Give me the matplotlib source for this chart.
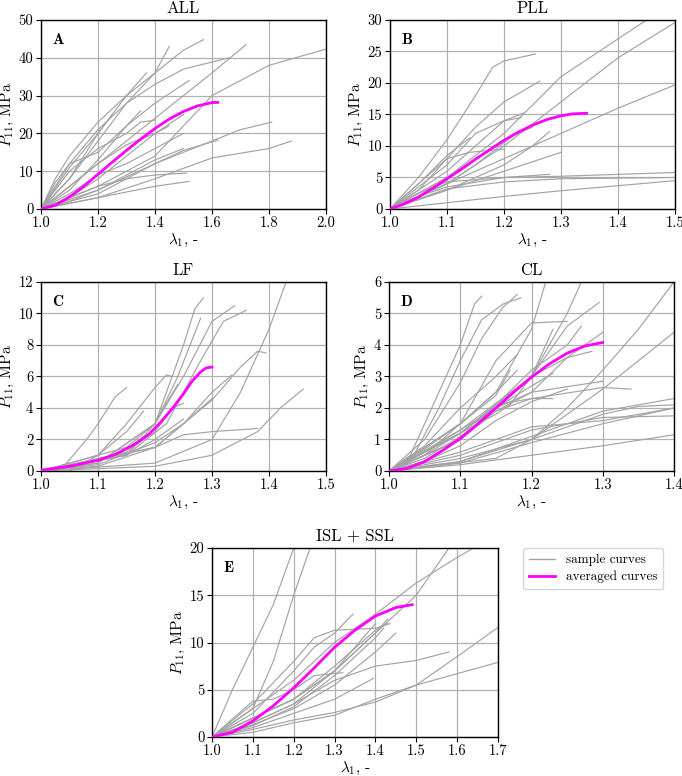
import matplotlib
matplotlib.use("Agg")
import matplotlib.pyplot as plt

plt.rcParams['font.family'] = 'serif'
plt.rcParams['font.serif'] = ['cmr10']
plt.rcParams['mathtext.fontset'] = 'cm'
plt.rcParams['axes.formatter.use_mathtext'] = True

# ---------------- data ----------------
titles = ["ALL", "PLL", "LF", "CL", "ISL + SSL"]
letters = ["A", "B", "C", "D", "E"]
xlims = [(1.0, 2.0), (1.0, 1.5), (1.0, 1.5), (1.0, 1.4), (1.0, 1.7)]
ylims = [(0, 50), (0, 30), (0, 12), (0, 6), (0, 20)]
xticks_A = [1.0, 1.2, 1.4, 1.6, 1.8, 2.0]
xticks_B = [1.0, 1.1, 1.2, 1.3, 1.4, 1.5]
xticks_C = [1.0, 1.1, 1.2, 1.3, 1.4, 1.5]
xticks_D = [1.0, 1.1, 1.2, 1.3, 1.4]
xticks_E = [1.0, 1.1, 1.2, 1.3, 1.4, 1.5, 1.6, 1.7]
yticks_A = [0, 10, 20, 30, 40, 50]
yticks_B = [0, 5, 10, 15, 20, 25, 30]
yticks_C = [0, 2, 4, 6, 8, 10, 12]
yticks_D = [0, 1, 2, 3, 4, 5, 6]
yticks_E = [0, 5, 10, 15, 20]

avg_A_x = [1.0, 1.05, 1.1, 1.15, 1.2, 1.25, 1.3, 1.35, 1.4, 1.45, 1.5, 1.55, 1.6, 1.62]
avg_A_y = [0, 1.0, 3.2, 6.0, 9.2, 12.4, 15.5, 18.5, 21.3, 23.8, 25.8, 27.3, 28.15, 28.2]
avg_B_x = [1.0, 1.025, 1.05, 1.075, 1.1, 1.125, 1.15, 1.175, 1.2, 1.225, 1.25, 1.275, 1.3, 1.32, 1.345]
avg_B_y = [0, 0.8, 1.9, 3.3, 4.8, 6.3, 7.9, 9.4, 10.9, 12.2, 13.3, 14.2, 14.8, 15.1, 15.2]
avg_C_x = [1.0, 1.05, 1.1, 1.13, 1.16, 1.19, 1.21, 1.23, 1.25, 1.265, 1.28, 1.29, 1.3]
avg_C_y = [0.05, 0.3, 0.68, 1.05, 1.6, 2.35, 3.1, 3.95, 4.9, 5.7, 6.3, 6.55, 6.6]
avg_D_x = [1.0, 1.025, 1.05, 1.075, 1.1, 1.125, 1.15, 1.175, 1.2, 1.225, 1.25, 1.275, 1.3]
avg_D_y = [0, 0.08, 0.3, 0.65, 1.03, 1.5, 2.0, 2.5, 2.98, 3.4, 3.74, 3.97, 4.08]
avg_E_x = [1.0, 1.05, 1.1, 1.15, 1.2, 1.25, 1.3, 1.35, 1.4, 1.45, 1.49]
avg_E_y = [0, 0.5, 1.7, 3.3, 5.2, 7.3, 9.5, 11.3, 12.8, 13.7, 14.0]

samples_A = [
    [(1.0, 0), (1.05, 8), (1.1, 14), (1.2, 23), (1.3, 30), (1.37, 36)],
    [(1.0, 0), (1.1, 11), (1.2, 20), (1.3, 30), (1.4, 36), (1.45, 43)],
    [(1.0, 0), (1.1, 8), (1.2, 18), (1.3, 28), (1.4, 36), (1.5, 42), (1.57, 44.8)],
    [(1.0, 0), (1.2, 12), (1.4, 24), (1.5, 30), (1.6, 36), (1.72, 43.5)],
    [(1.0, 0), (1.2, 6), (1.4, 14), (1.6, 30), (1.8, 38), (2.0, 42.3)],
    [(1.0, 0), (1.1, 12), (1.2, 21), (1.3, 28), (1.4, 33), (1.5, 37), (1.66, 40)],
    [(1.0, 0), (1.1, 5), (1.2, 13), (1.3, 22), (1.4, 28), (1.52, 34)],
    [(1.0, 0), (1.2, 5), (1.4, 12), (1.6, 18), (1.7, 21), (1.81, 23)],
    [(1.0, 0), (1.2, 3), (1.4, 8), (1.6, 13.5), (1.8, 16), (1.88, 18)],
    [(1.0, 0), (1.2, 4), (1.4, 12), (1.5, 15.5), (1.62, 18.2)],
    [(1.0, 0), (1.1, 3), (1.2, 6), (1.3, 8), (1.4, 9), (1.51, 9.5)],
    [(1.0, 0), (1.1, 1.5), (1.2, 3), (1.3, 4.5), (1.4, 6), (1.52, 7.3)],
    [(1.0, 0), (1.1, 3), (1.2, 8), (1.3, 14), (1.4, 20), (1.5, 25)],
    [(1.0, 0), (1.1, 10), (1.2, 16), (1.3, 20), (1.35, 23), (1.4, 23.5)],
    [(1.0, 0), (1.1, 6), (1.2, 12), (1.3, 17), (1.4, 20), (1.45, 22)],
    [(1.0, 0), (1.05, 7), (1.1, 12), (1.2, 15), (1.3, 22), (1.35, 26)],
    [(1.0, 0), (1.1, 8), (1.2, 20), (1.25, 25)],
    [(1.0, 0), (1.1, 4), (1.2, 9), (1.3, 12), (1.4, 16), (1.5, 20)],
    [(1.0, 0), (1.1, 2), (1.2, 5), (1.3, 9), (1.4, 13), (1.5, 16)],
]
samples_B = [
    [(1.0, 0), (1.05, 5), (1.1, 11), (1.15, 18), (1.18, 22.5), (1.2, 23.5), (1.255, 24.6)],
    [(1.0, 0), (1.05, 3), (1.1, 8), (1.15, 13), (1.2, 17), (1.263, 20.3)],
    [(1.0, 0), (1.1, 5), (1.2, 12), (1.3, 21), (1.4, 27), (1.45, 30)],
    [(1.0, 0), (1.1, 4), (1.2, 10), (1.3, 17), (1.4, 24), (1.5, 29.6)],
    [(1.0, 0), (1.1, 4), (1.2, 8), (1.3, 12), (1.4, 16), (1.5, 19.7)],
    [(1.0, 0), (1.1, 3), (1.2, 7), (1.25, 10), (1.28, 12.3)],
    [(1.0, 0), (1.1, 3), (1.2, 6), (1.3, 9)],
    [(1.0, 0), (1.05, 2), (1.1, 3.5), (1.2, 5), (1.28, 5.5)],
    [(1.0, 0), (1.05, 2.5), (1.1, 4.3), (1.2, 5), (1.3, 5.2), (1.5, 5.8)],
    [(1.0, 0), (1.1, 3.2), (1.2, 4.3), (1.3, 4.8), (1.5, 5.0)],
    [(1.0, 0), (1.1, 1), (1.2, 2), (1.3, 2.9), (1.5, 4.5)],
    [(1.0, 0), (1.05, 4), (1.1, 8.5), (1.14, 11.3)],
    [(1.0, 0), (1.1, 6), (1.15, 10), (1.2, 14), (1.234, 15.2)],
    [(1.0, 0), (1.1, 7), (1.15, 12), (1.2, 14), (1.23, 14.5)],
    [(1.0, 0), (1.1, 5), (1.2, 11), (1.25, 13)],
    [(1.0, 0), (1.05, 4), (1.1, 8), (1.14, 9), (1.2, 9.5)],
    [(1.0, 0), (1.1, 4), (1.15, 7), (1.2, 10.5), (1.22, 12)],
]
samples_C = [
    [(1.0, 0), (1.04, 0.3), (1.08, 2), (1.1, 3), (1.13, 4.7), (1.15, 5.3)],
    [(1.0, 0), (1.1, 1), (1.15, 3), (1.2, 5.3), (1.22, 6.1), (1.23, 6.0)],
    [(1.05, 0), (1.1, 1), (1.15, 2.5), (1.18, 3.8)],
    [(1.0, 0), (1.1, 0.5), (1.2, 3), (1.22, 5), (1.25, 8), (1.27, 10.3), (1.285, 11)],
    [(1.0, 0), (1.1, 0.5), (1.2, 3), (1.24, 6), (1.28, 9.7)],
    [(1.0, 0), (1.15, 1), (1.2, 3), (1.25, 6), (1.3, 9.5), (1.34, 10.5)],
    [(1.0, 0), (1.15, 1), (1.22, 3), (1.28, 7), (1.32, 9.5), (1.36, 10.2)],
    [(1.0, 0), (1.1, 0.3), (1.2, 1.5), (1.3, 4.5), (1.35, 6.6), (1.38, 7.6), (1.395, 7.5)],
    [(1.0, 0), (1.2, 1.5), (1.25, 2.3), (1.3, 2.5), (1.38, 2.7)],
    [(1.0, 0), (1.2, 0.5), (1.3, 2), (1.35, 5), (1.4, 9), (1.43, 12)],
    [(1.0, 0), (1.2, 0.3), (1.3, 1), (1.38, 2.5), (1.42, 4), (1.46, 5.2)],
    [(1.0, 0), (1.2, 1.5), (1.25, 3), (1.3, 5), (1.335, 6.1)],
    [(1.0, 0), (1.15, 1.5), (1.2, 3), (1.22, 4.3), (1.24, 5.5)],
    [(1.0, 0), (1.15, 1.2), (1.2, 2.5), (1.23, 4), (1.25, 4.3)],
    [(1.0, 0), (1.15, 1), (1.2, 2), (1.25, 3.3)],
    [(1.0, 0), (1.1, 0.4), (1.2, 1.8), (1.25, 3.0), (1.3, 4.6)],
]
samples_D = [
    [(1.0, 0), (1.03, 0.5), (1.06, 2), (1.1, 4), (1.12, 5.3), (1.13, 5.55)],
    [(1.0, 0), (1.03, 0.3), (1.07, 2), (1.1, 3.5), (1.13, 4.8), (1.16, 5.3), (1.185, 5.5)],
    [(1.0, 0), (1.05, 1), (1.1, 2.8), (1.13, 4.2), (1.16, 5.2), (1.18, 5.6)],
    [(1.0, 0), (1.05, 0.8), (1.1, 2), (1.15, 3), (1.18, 3.7)],
    [(1.0, 0), (1.05, 0.7), (1.1, 1.5), (1.15, 2.5), (1.18, 3.2)],
    [(1.0, 0), (1.1, 1.5), (1.15, 2.5), (1.2, 4.5), (1.22, 6)],
    [(1.0, 0), (1.1, 1.3), (1.2, 3), (1.25, 5), (1.27, 6)],
    [(1.0, 0), (1.1, 1), (1.2, 3), (1.25, 4.6), (1.295, 5.35)],
    [(1.0, 0), (1.1, 1.5), (1.15, 3.5), (1.2, 4.7), (1.25, 4.75)],
    [(1.0, 0), (1.1, 1), (1.2, 3.2), (1.25, 4), (1.27, 4.6)],
    [(1.0, 0), (1.1, 1.2), (1.2, 3), (1.25, 3.6), (1.285, 3.8)],
    [(1.0, 0), (1.1, 1.2), (1.15, 2), (1.2, 2.5), (1.3, 2.85)],
    [(1.0, 0), (1.1, 1), (1.15, 1.9), (1.2, 2.3), (1.3, 2.65), (1.34, 2.6)],
    [(1.0, 0), (1.1, 1.2), (1.15, 2.1), (1.2, 2.3), (1.23, 2.3)],
    [(1.0, 0), (1.1, 0.3), (1.2, 1), (1.25, 2), (1.3, 3.2), (1.35, 4.5), (1.4, 6)],
    [(1.0, 0), (1.15, 0.4), (1.2, 1), (1.25, 1.8), (1.3, 2.6), (1.4, 4.4)],
    [(1.0, 0), (1.1, 0.5), (1.2, 1.3), (1.3, 1.7), (1.4, 1.75)],
    [(1.0, 0), (1.1, 0.4), (1.2, 1.0), (1.3, 1.8), (1.35, 2.05), (1.4, 2.1)],
    [(1.0, 0), (1.1, 0.25), (1.2, 0.9), (1.3, 1.5), (1.4, 2.0)],
    [(1.0, 0), (1.1, 0.3), (1.2, 1.1), (1.3, 1.9), (1.4, 2.3)],
    [(1.0, 0), (1.1, 0.2), (1.2, 0.5), (1.3, 0.8), (1.4, 1.15)],
    [(1.0, 0), (1.05, 0.6), (1.1, 1.3), (1.15, 2.0), (1.2, 2.7), (1.23, 3.1)],
    [(1.0, 0), (1.05, 0.4), (1.1, 1.1), (1.15, 1.9), (1.2, 2.5), (1.25, 3.6), (1.3, 4.4)],
    [(1.0, 0), (1.05, 0.5), (1.1, 1.2), (1.15, 1.8), (1.17, 2.1), (1.2, 3.0), (1.23, 4.5)],
    [(1.0, 0), (1.05, 0.3), (1.1, 0.8), (1.15, 1.6), (1.2, 2.2), (1.25, 2.6)],
    [(1.0, 0), (1.05, 0.5), (1.1, 1.5), (1.15, 2.4), (1.17, 3.2)],
    [(1.0, 0), (1.1, 0.6), (1.2, 1.4), (1.3, 1.6), (1.4, 2.0)],
]
samples_E = [
    [(1.0, 0), (1.05, 5), (1.1, 9.5), (1.15, 14), (1.2, 20)],
    [(1.0, 0), (1.1, 3), (1.15, 8), (1.2, 15), (1.24, 20)],
    [(1.0, 0), (1.1, 3), (1.2, 6), (1.3, 10), (1.4, 13), (1.5, 16.3), (1.6, 19), (1.64, 20)],
    [(1.0, 0), (1.1, 2), (1.2, 4), (1.3, 7), (1.4, 11), (1.5, 15), (1.58, 20)],
    [(1.0, 0), (1.1, 2.5), (1.2, 7), (1.25, 9.5), (1.3, 11), (1.345, 13)],
    [(1.0, 0), (1.1, 3.5), (1.2, 8), (1.25, 10.5), (1.3, 11.3), (1.4, 11.5), (1.435, 12)],
    [(1.0, 0), (1.1, 2), (1.2, 4), (1.3, 7), (1.4, 11), (1.43, 12.5)],
    [(1.0, 0), (1.1, 3.8), (1.15, 4), (1.2, 5), (1.25, 6.5), (1.32, 6.8)],
    [(1.0, 0), (1.1, 1.5), (1.2, 3.5), (1.3, 6), (1.4, 7.5), (1.5, 8.1), (1.58, 9)],
    [(1.0, 0), (1.1, 1), (1.2, 2.5), (1.3, 4), (1.395, 6.2)],
    [(1.0, 0), (1.1, 0.8), (1.2, 1.8), (1.3, 2.6), (1.4, 3.7), (1.5, 5.5), (1.6, 8.5), (1.7, 11.6)],
    [(1.0, 0), (1.1, 0.5), (1.2, 1.5), (1.3, 2.3), (1.4, 4), (1.5, 5.5), (1.7, 7.9)],
    [(1.0, 0), (1.1, 1.3), (1.2, 3), (1.3, 5.5), (1.4, 9), (1.45, 11)],
    [(1.0, 0), (1.1, 2), (1.2, 4), (1.3, 7.5), (1.4, 11.3), (1.43, 12)],
    [(1.0, 0), (1.1, 1.5), (1.2, 3.5), (1.3, 7), (1.4, 12)],
    [(1.0, 0), (1.1, 1.2), (1.2, 3.2), (1.3, 6.5), (1.4, 10.5), (1.42, 11.5)],
]

samples = [samples_A, samples_B, samples_C, samples_D, samples_E]
avgs = [(avg_A_x, avg_A_y), (avg_B_x, avg_B_y), (avg_C_x, avg_C_y),
        (avg_D_x, avg_D_y), (avg_E_x, avg_E_y)]
xticks = [xticks_A, xticks_B, xticks_C, xticks_D, xticks_E]
yticks = [yticks_A, yticks_B, yticks_C, yticks_D, yticks_E]

# ---------------- layout ----------------
W, H = 682, 776
boxes_px = [(41, 20, 326, 209), (390, 20, 675, 209),
            (41, 282, 326, 471), (389, 282, 674, 471),
            (212, 548, 498, 737)]

fig = plt.figure(figsize=(W / 100, H / 100), dpi=100)
gray = '#a3a3a3'
magenta = '#ff00ff'

for i in range(5):
    l, t, r, b = boxes_px[i]
    ax = fig.add_axes([l / W, 1 - b / H, (r - l) / W, (b - t) / H])
    for curve in samples[i]:
        xs = [p[0] for p in curve]
        ys = [p[1] for p in curve]
        ax.plot(xs, ys, color=gray, lw=0.85, zorder=2)
    ax.plot(avgs[i][0], avgs[i][1], color=magenta, lw=2.0, zorder=3)
    ax.set_xlim(*xlims[i])
    ax.set_ylim(*ylims[i])
    ax.set_xticks(xticks[i])
    ax.set_yticks(yticks[i])
    ax.set_xticklabels([f"{v:.1f}" for v in xticks[i]])
    ax.set_yticklabels([f"{v:d}" for v in yticks[i]])
    ax.grid(True, color='#b0b0b0', lw=0.9, zorder=1)
    ax.set_axisbelow(True)
    for s in ax.spines.values():
        s.set_linewidth(1.0)
    ax.tick_params(labelsize=10.5, length=3.5, width=0.8, pad=2)
    ax.set_title(titles[i], fontsize=12, pad=5)
    ax.set_xlabel(r"$\lambda_1$, -", fontsize=11, labelpad=1)
    ax.set_ylabel(r"$P_{11}$, MPa", fontsize=11, labelpad=2)
    ax.text(0.04, 0.93, letters[i], transform=ax.transAxes, fontsize=11,
            fontfamily='cmb10', va='top', ha='left')

handles = [plt.Line2D([], [], color=gray, lw=1.0),
           plt.Line2D([], [], color=magenta, lw=2.0)]
fig.legend(handles, ["sample curves", "averaged curves"],
           loc='upper left', bbox_to_anchor=(523 / W, 1 - 548 / H),
           borderaxespad=0, fontsize=9.5, frameon=True, edgecolor='#cccccc',
           fancybox=True, handlelength=2.0, handletextpad=0.8,
           borderpad=0.45, labelspacing=0.35)

fig.savefig("out.png", dpi=100)
